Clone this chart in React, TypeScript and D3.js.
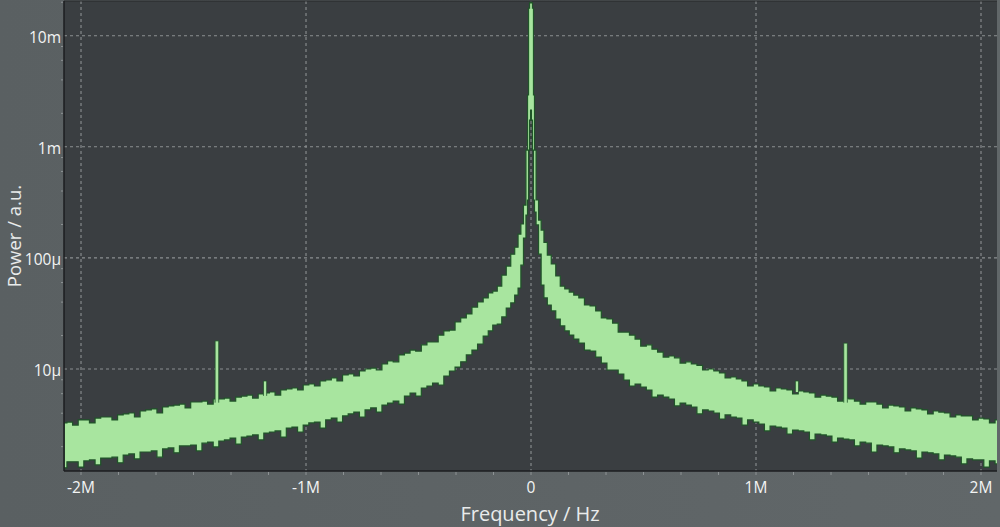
import React from 'react';
import * as d3 from 'd3';

// Frequency in MHz, power in micro a.u. (µ)
const leftFreq = [
  -2.075, -2.05, -2.025, -2.0, -1.975, -1.95, -1.925, -1.9, -1.875, -1.85,
  -1.825, -1.8, -1.775, -1.75, -1.725, -1.7, -1.675, -1.65, -1.625, -1.6,
  -1.575, -1.55, -1.525, -1.5, -1.475, -1.45, -1.425, -1.4, -1.375, -1.35,
  -1.325, -1.3, -1.275, -1.25, -1.225, -1.2, -1.175, -1.15, -1.125, -1.1,
  -1.075, -1.05, -1.025, -1.0, -0.975, -0.95, -0.925, -0.9, -0.875, -0.85,
  -0.825, -0.8, -0.775, -0.75, -0.725, -0.7, -0.675, -0.65, -0.625, -0.6,
  -0.575, -0.55, -0.525, -0.5, -0.475, -0.45, -0.425, -0.4, -0.375, -0.35,
  -0.325, -0.3, -0.275, -0.25, -0.225, -0.2,
];
const leftUpper = [
  3.27, 3.33, 3.13, 3.48, 3.48, 3.27, 3.62, 3.7, 3.7, 3.48,
  3.86, 3.94, 4.02, 3.7, 4.19, 4.28, 4.37, 4.02, 4.55, 4.65,
  4.74, 4.84, 4.46, 5.05, 5.05, 5.15, 4.84, 5.37, 5.37, 5.48,
  5.15, 5.59, 5.71, 5.83, 5.48, 5.96, 6.08, 6.21, 5.83, 6.47,
  6.61, 6.75, 6.47, 7.18, 7.33, 7.03, 7.8, 7.96, 8.3, 7.8,
  8.83, 9.02, 8.65, 9.6, 10.0, 10.2, 9.8, 11.1, 11.8, 11.6,
  13.4, 13.9, 14.8, 14.5, 16.5, 17.5, 17.5, 20.2, 22.0, 22.4,
  26.5, 28.8, 31.3, 36.1, 40.1, 43.6,
];
const leftLower = [
  1.29, 1.46, 1.46, 1.31, 1.49, 1.52, 1.37, 1.58, 1.58, 1.61,
  1.43, 1.68, 1.72, 1.55, 1.79, 1.79, 1.83, 1.61, 1.91, 1.95,
  1.76, 2.03, 2.03, 2.07, 1.83, 2.15, 2.2, 1.99, 2.25, 2.3,
  2.39, 2.11, 2.44, 2.49, 2.55, 2.3, 2.65, 2.71, 2.77, 2.44,
  2.94, 3.0, 2.71, 3.13, 3.27, 3.33, 2.94, 3.48, 3.62, 3.33,
  3.78, 3.94, 4.1, 3.7, 4.28, 4.46, 4.1, 4.74, 4.94, 5.15,
  4.84, 5.71, 6.08, 5.71, 6.75, 7.03, 7.48, 7.18, 8.65, 9.6,
  10.4, 11.6, 13.4, 14.8, 16.8, 19.8,
];
const centerFreq = [
  -0.18, -0.16, -0.14, -0.12, -0.1, -0.08, -0.065, -0.05, -0.04, -0.027,
  -0.018, -0.013, -0.009, -0.004, 0, 0.004, 0.009, 0.013, 0.018, 0.027,
  0.04, 0.05, 0.065, 0.08, 0.1, 0.12, 0.14, 0.16, 0.18,
];
const centerUpper = [
  48.3, 50.3, 55.8, 70.1, 84.5, 108, 125, 164, 202, 299,
  935, 2924, 17700, 19700, 20100, 19700, 17700, 2924, 935, 332,
  219, 178, 138, 106, 88.1, 68.7, 55.8, 52.5, 49.3,
];
const centerLower = [
  22.0, 24.9, 25.4, 29.4, 35.4, 39.3, 46.3, 53.6, 86, 151,
  243, 332, 935, 1740, 2140, 1740, 935, 332, 259, 198,
  108, 57, 43.6, 37.7, 33.3, 28.2, 24.4, 22.0, 20.2,
];
const rightFreq = [
  0.2, 0.225, 0.25, 0.275, 0.3, 0.325, 0.35, 0.375, 0.4, 0.425,
  0.45, 0.475, 0.5, 0.525, 0.55, 0.575, 0.6, 0.625, 0.65, 0.675,
  0.7, 0.725, 0.75, 0.775, 0.8, 0.825, 0.85, 0.875, 0.9, 0.925,
  0.95, 0.975, 1.0, 1.025, 1.05, 1.075, 1.1, 1.125, 1.15, 1.175,
  1.2, 1.225, 1.25, 1.275, 1.3, 1.325, 1.35, 1.375, 1.4, 1.425,
  1.45, 1.475, 1.5, 1.525, 1.55, 1.575, 1.6, 1.625, 1.65, 1.675,
  1.7, 1.725, 1.75, 1.775, 1.8, 1.825, 1.85, 1.875, 1.9, 1.925,
  1.95, 1.975, 2.0, 2.025, 2.05, 2.075,
];
const rightUpper = [
  46.3, 43.6, 37.7, 36.9, 33.3, 28.8, 28.2, 25.9, 21.5, 21.5,
  20.2, 18.6, 16.1, 16.5, 15.1, 14.2, 12.8, 13.1, 12.6, 11.3,
  11.6, 11.1, 10.8, 9.8, 10.0, 9.6, 9.21, 8.3, 8.47, 8.13,
  7.8, 7.03, 7.33, 7.03, 6.89, 6.34, 6.75, 6.61, 6.47, 5.96,
  6.34, 6.21, 6.08, 5.59, 5.83, 5.71, 5.59, 5.15, 5.48, 5.37,
  5.15, 4.84, 5.05, 5.05, 4.84, 4.46, 4.74, 4.65, 4.55, 4.19,
  4.46, 4.37, 4.28, 3.94, 4.19, 4.1, 4.02, 3.7, 3.86, 3.78,
  3.78, 3.48, 3.62, 3.55, 3.27, 3.48,
];
const rightLower = [
  18.6, 17.1, 14.8, 14.5, 12.8, 11.3, 9.8, 9.8, 9.02, 7.96,
  7.03, 7.33, 6.89, 6.47, 5.59, 5.83, 5.59, 5.37, 4.65, 4.94,
  4.74, 4.55, 3.94, 4.28, 4.19, 4.02, 3.55, 3.86, 3.7, 3.62,
  3.13, 3.48, 3.33, 3.2, 2.77, 3.07, 3.0, 2.94, 2.6, 2.82,
  2.77, 2.71, 2.3, 2.6, 2.55, 2.49, 2.2, 2.39, 2.34, 2.3,
  2.03, 2.2, 2.15, 1.79, 2.07, 2.03, 1.99, 1.76, 1.91, 1.87,
  1.83, 1.58, 1.79, 1.76, 1.72, 1.52, 1.68, 1.65, 1.61, 1.4,
  1.55, 1.52, 1.52, 1.31, 1.49, 1.4,
];

// Narrow sideband lines
const spikeFreq = [-1.396, -1.182, 1.182, 1.398];
const spikeBase = [5.3, 6.1, 6.6, 5.3];
const spikePeak = [17.9, 7.8, 7.8, 17.1];

const xTickValues = [-2, -1, 0, 1, 2];
const xTickLabels = ['-2M', '-1M', '0', '1M', '2M'];
const yTickValues = [1e-5, 1e-4, 1e-3, 1e-2];
const yTickLabels = ['10µ', '100µ', '1m', '10m'];

const W = 1000;
const H = 527;
const PL = 64;
const PR = 997;
const PT = 1;
const PB = 471;

export default function App() {
  const x = d3.scaleLinear().domain([-2.0756, 2.0711]).range([PL, PR]);
  const y = d3.scaleLog().domain([1.208e-6, 0.0201]).range([PB, 2]);

  const freq = [...leftFreq, ...centerFreq, ...rightFreq];
  const up = [...leftUpper, ...centerUpper, ...rightUpper];
  const lo = [...leftLower, ...centerLower, ...rightLower];
  const rows = freq.map((f, i) => ({ f, u: up[i] * 1e-6, l: lo[i] * 1e-6 }));

  const area = d3
    .area<{ f: number; u: number; l: number }>()
    .x((d) => x(d.f))
    .y0((d) => y(d.l))
    .y1((d) => y(d.u))
    .curve(d3.curveStep);

  const minorX: number[] = [];
  for (let k = -12; k <= 12; k++) minorX.push(k / 6);
  const minorY: number[] = [];
  for (let e = -6; e <= -2; e++) {
    for (const m of [2, 4, 6, 8]) {
      const v = m * Math.pow(10, e);
      if (v > 1.208e-6 && v < 0.0201) minorY.push(v);
    }
  }

  const font = "'Open Sans', 'Noto Sans', sans-serif";
  const green = '#a8e59f';
  const dark = '#1f5428';

  return (
    <div style={{ position: 'fixed', left: 0, top: 0 }}>
      <svg width={W} height={H} style={{ display: 'block' }}>
        <defs>
          <clipPath id="plotclip">
            <rect x={PL} y={PT} width={PR - PL} height={PB - PT} />
          </clipPath>
          <linearGradient id="bgGrad" x1="0" y1="0" x2="1" y2="0">
            <stop offset="0" stopColor="#5a6062" />
            <stop offset="1" stopColor="#616769" />
          </linearGradient>
        </defs>
        <rect x={0} y={0} width={W} height={H} fill="url(#bgGrad)" />
        <rect x={PL} y={PT} width={PR - PL} height={PB - PT} fill="#3a3e41" />

        {/* grid */}
        <g stroke="#9a9ea0" strokeWidth={1.1} strokeDasharray="3,3" opacity={0.85}>
          {xTickValues.map((v) => (
            <line key={'gx' + v} x1={x(v)} x2={x(v)} y1={PT} y2={PB} />
          ))}
          {yTickValues.map((v) => (
            <line key={'gy' + v} x1={PL} x2={PR} y1={y(v)} y2={y(v)} />
          ))}
        </g>

        {/* spectrum band */}
        <g clipPath="url(#plotclip)">
          <path d={area(rows) || ''} fill={green} stroke={dark} strokeWidth={1.2} strokeLinejoin="miter" />
          {spikeFreq.map((f, i) => {
            const cx = x(f);
            const w = i === 0 || i === 3 ? 3.6 : 3.2;
            const yb = y(spikeBase[i] * 1e-6) + 3;
            const yt = y(spikePeak[i] * 1e-6);
            return (
              <path
                key={'sp' + i}
                d={`M${cx - w / 2},${yb}L${cx - w / 2},${yt}L${cx + w / 2},${yt}L${cx + w / 2},${yb}`}
                fill={green}
                stroke={dark}
                strokeWidth={0.8}
              />
            );
          })}
        </g>

        {/* frame */}
        <line x1={PL} x2={PR} y1={PT} y2={PT} stroke="#26292b" strokeWidth={1} />
        <line x1={PL} x2={PL} y1={PT} y2={PB} stroke="#1c1e20" strokeWidth={1.5} />
        <line x1={PL} x2={PR} y1={PB} y2={PB} stroke="#1c1e20" strokeWidth={1.5} />

        {/* minor ticks */}
        <g stroke="#8d9294" strokeWidth={1}>
          {minorX.map((v) => (
            <line key={'mx' + v} x1={x(v)} x2={x(v)} y1={PB + 1} y2={PB + 4} />
          ))}
          {minorY.map((v) => (
            <line key={'my' + v} x1={PL - 3} x2={PL - 1} y1={y(v)} y2={y(v)} />
          ))}
        </g>

        {/* tick labels */}
        <g fill="#f3f4f4" fontFamily={font} fontSize={15.5}>
          {xTickValues.map((v, i) => (
            <text key={'tx' + v} x={x(v)} y={493} textAnchor="middle">
              {xTickLabels[i]}
            </text>
          ))}
          {yTickValues.map((v, i) => (
            <text key={'ty' + v} x={61} y={y(v) + 7} textAnchor="end">
              {yTickLabels[i]}
            </text>
          ))}
        </g>

        {/* axis titles */}
        <text x={530} y={521} textAnchor="middle" fill="#e9ebeb" fontFamily={font} fontSize={20}>
          Frequency / Hz
        </text>
        <text
          transform="translate(21,236) rotate(-90)"
          textAnchor="middle"
          fill="#e9ebeb"
          fontFamily={font}
          fontSize={18.5}
        >
          Power / a.u.
        </text>
      </svg>
    </div>
  );
}
